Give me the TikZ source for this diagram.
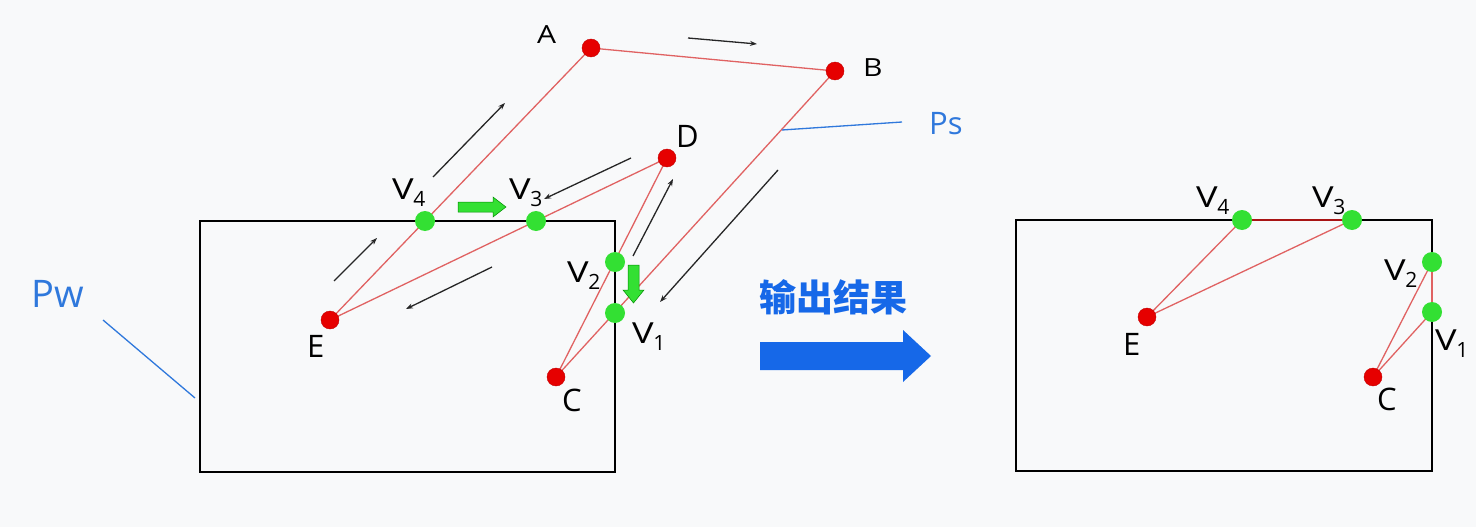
\documentclass[tikz,border=0pt]{standalone}
\usepackage{fontspec}
\setmainfont{Open Sans}
\newfontfamily\cjk{Noto Sans CJK SC}
\usetikzlibrary{arrows.meta,backgrounds}
\definecolor{ptred}{HTML}{E60000}
\definecolor{ptgreen}{HTML}{33E033}
\definecolor{edgered}{HTML}{E06262}
\definecolor{darkedge}{HTML}{A81414}
\definecolor{lblue}{HTML}{2F78DC}
\definecolor{bigblue}{HTML}{1668E8}
\definecolor{bgcol}{HTML}{F8F9FA}
\newcommand\Vn[1]{\scalebox{1.25}[1]{V}\kern-0.5pt\raisebox{-7pt}{\fontsize{21}{21}\selectfont #1}}
\newcommand\Wide[1]{\scalebox{1.2}[1]{#1}}
\begin{document}
\begin{tikzpicture}[x=1pt,y=-1pt,
  rdot/.style={circle,fill=ptred,draw=ptred!85!black,line width=0.4pt,minimum size=18pt,inner sep=0pt},
  gdot/.style={circle,fill=ptgreen,minimum size=20pt,inner sep=0pt},
  poly/.style={draw=edgered,line width=1.3pt},
  thickedge/.style={draw=darkedge,line width=2.6pt},
  frame/.style={draw=black,line width=2pt},
  lbl/.style={inner sep=0pt,anchor=base west,font=\fontsize{31}{31}\selectfont},
  lblab/.style={inner sep=0pt,anchor=base west,font=\fontsize{25}{25}\selectfont},
  vlbl/.style={inner sep=0pt,anchor=base west,font=\fontsize{29}{29}\selectfont},
  move/.style={draw=black!85,line width=1.3pt,-{Stealth[length=7pt,width=5pt]}},
  garrow/.style={fill=ptgreen,draw=green!55!black,line width=0.5pt},
  callout/.style={draw=lblue,line width=1.3pt},
  plabel/.style={inner sep=0pt,anchor=base west,text=lblue}
]
\useasboundingbox (0,0) rectangle (1476,527);

% ---------- left diagram: points ----------
\node[rdot] (A) at (591,48) {};
\node[rdot] (B) at (835,71) {};
\node[rdot] (C) at (556,377) {};
\node[rdot] (D) at (667,158) {};
\node[rdot] (E) at (330,320) {};
\node[gdot] (V4) at (425,221) {};
\node[gdot] (V3) at (536,221) {};
\node[gdot] (V2) at (615,262) {};
\node[gdot] (V1) at (615,313) {};

% ---------- right diagram: points ----------
\node[rdot] (rE) at (1147,317) {};
\node[rdot] (rC) at (1373,377) {};
\node[gdot] (rV4) at (1242,220) {};
\node[gdot] (rV3) at (1352,220) {};
\node[gdot] (rV2) at (1432,262) {};
\node[gdot] (rV1) at (1432,312) {};

\begin{scope}[on background layer]
  \fill[bgcol] (0,0) rectangle (1476,527);
  % left
  \draw[poly] (A.center) -- (B.center) -- (C.center) -- (D.center) -- (E.center) -- cycle;
  \draw[frame] (200,221) rectangle (615,472);
  % right
  \draw[frame] (1016,220) rectangle (1432,471);
  \draw[poly] (rE.center) -- (rV4.center);
  \draw[poly] (rE.center) -- (rV3.center);
  \draw[poly] (rC.center) -- (rV2.center);
  \draw[poly] (rC.center) -- (rV1.center);
  \draw[thickedge] (rV4.center) -- (rV3.center);
  \draw[draw=edgered,line width=2.6pt] (rV2.center) -- (rV1.center);
\end{scope}

% ---------- left labels ----------
\node[lblab] (lA) at (537,44) {\Wide{A}};
\node[lblab] (lB) at (863,77) {\Wide{B}};
\node[lbl] (lC) at (562,411) {C};
\node[lbl] (lD) at (676,147) {D};
\node[lbl] (lE) at (307,357) {E};
\node[vlbl] (lV4) at (392,199) {\Vn{4}};
\node[vlbl] (lV3) at (509,199) {\Vn{3}};
\node[vlbl] (lV2) at (567,282) {\Vn{2}};
\node[vlbl] (lV1) at (632,343) {\Vn{1}};

% ---------- right labels ----------
\node[vlbl] (rlV4) at (1196,207) {\Vn{4}};
\node[vlbl] (rlV3) at (1312,207) {\Vn{3}};
\node[vlbl] (rlV2) at (1384,280) {\Vn{2}};
\node[vlbl] (rlV1) at (1435,350) {\Vn{1}};
\node[lbl] (rlE) at (1123,355) {E};
\node[lbl] (rlC) at (1377,410) {C};

% ---------- motion arrows ----------
\draw[move] (688,38) -- (757,44);
\draw[move] (433,177) -- (505,103);
\draw[move] (631,158) -- (544,199);
\draw[move] (492,267) -- (406,309);
\draw[move] (334,281) -- (377,238);
\draw[move] (633,256) -- (673,179);
\draw[move] (778,170) -- (660,302);

% ---------- green block arrows ----------
\draw[garrow] (458,202) -- (493,202) -- (493,197) -- (506,207) -- (493,217) -- (493,212) -- (458,212) -- cycle;
\draw[garrow] (628,265) -- (639,265) -- (639,290) -- (644,290) -- (633.5,303) -- (623,290) -- (628,290) -- cycle;

% ---------- callouts ----------
\node[plabel,font=\fontsize{31}{31}\selectfont] (ps) at (929,135) {Ps};
\coordinate (psfoot) at (782,130);
\coordinate (pstip) at (902,122);
\draw[callout] (psfoot) -- (pstip);
\node[plabel,font=\fontsize{38}{38}\selectfont] (pw) at (31,307) {Pw};
\coordinate (pwtip) at (103,320);
\coordinate (pwfoot) at (195,398);
\draw[callout] (pwtip) -- (pwfoot);

% ---------- result arrow ----------
\node[text=bigblue,inner sep=0pt,font=\cjk\bfseries\fontsize{37}{37}\selectfont] (res) at (833,297) {输出结果};
\fill[bigblue] (760,342) -- (903,342) -- (903,330) -- (931,356) -- (903,382) -- (903,370) -- (760,370) -- cycle;
\end{tikzpicture}
\end{document}
